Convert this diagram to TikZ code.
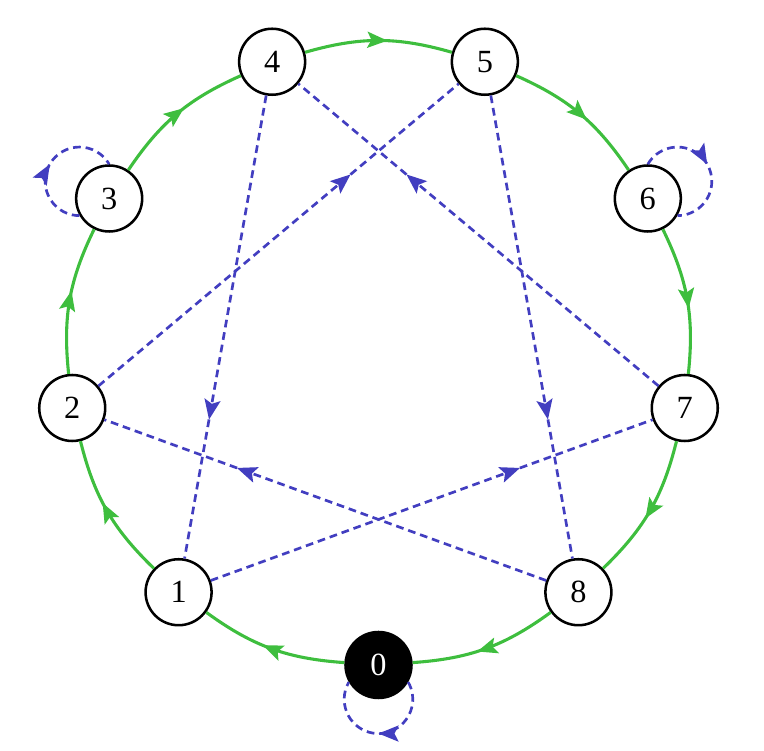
\documentclass[tikz,border=0pt]{standalone}
\usepackage{fontspec}
\setmainfont{Liberation Serif}
\usetikzlibrary{arrows.meta,decorations.markings}
\definecolor{cycgreen}{RGB}{62,190,62}
\definecolor{jumpblue}{RGB}{66,62,192}

\begin{document}
\begin{tikzpicture}[
  vertex/.style={circle,draw=black,line width=1.8pt,fill=white,minimum size=1.65cm,inner sep=0pt,font=\fontsize{23}{27}\selectfont},
  start/.style={vertex,fill=black,text=white},
  midarrow/.style={postaction={decorate},decoration={markings,mark=at position #1 with {\arrow{Stealth[length=0.5cm,width=0.4cm,inset=0.1cm]}}}},
  cyc/.style={draw=cycgreen,line width=2.2pt,midarrow=0.56},
  jump/.style={draw=jumpblue,line width=1.9pt,dash pattern=on 5.5pt off 3.5pt,midarrow=#1},
  jump/.default=0.7]
\useasboundingbox (-9.4625,-9.925) rectangle (9.6375,8.85);
%the nodes on the ring
\node [start] (n0) at (-90:7.775) {0};
\foreach \i in {1,...,8}
  \node [vertex] (n\i) at ({-90-40*\i}:7.775) {\i};
%green ring
\foreach \i [evaluate=\i as \j using {int(mod(\i+1,9))}] in {0,...,8}
  \draw [cyc] (n\i) to[bend left=16] (n\j);
%dashed jumps
\draw [jump] (n4) -- (n1);
\draw [jump] (n2) -- (n5);
\draw [jump] (n7) -- (n4);
\draw [jump] (n5) -- (n8);
\draw [jump] (n1) -- (n7);
\draw [jump] (n8) -- (n2);
%self loops
\draw [jump=0.5] (n0.-30) arc[start angle=30,delta angle=-240,radius=0.857cm];
\draw [jump=0.5] (n3.210) arc[start angle=270,delta angle=-240,radius=0.857cm];
\draw [jump=0.5] (n6.90) arc[start angle=150,delta angle=-240,radius=0.857cm];
\end{tikzpicture}
\end{document}
